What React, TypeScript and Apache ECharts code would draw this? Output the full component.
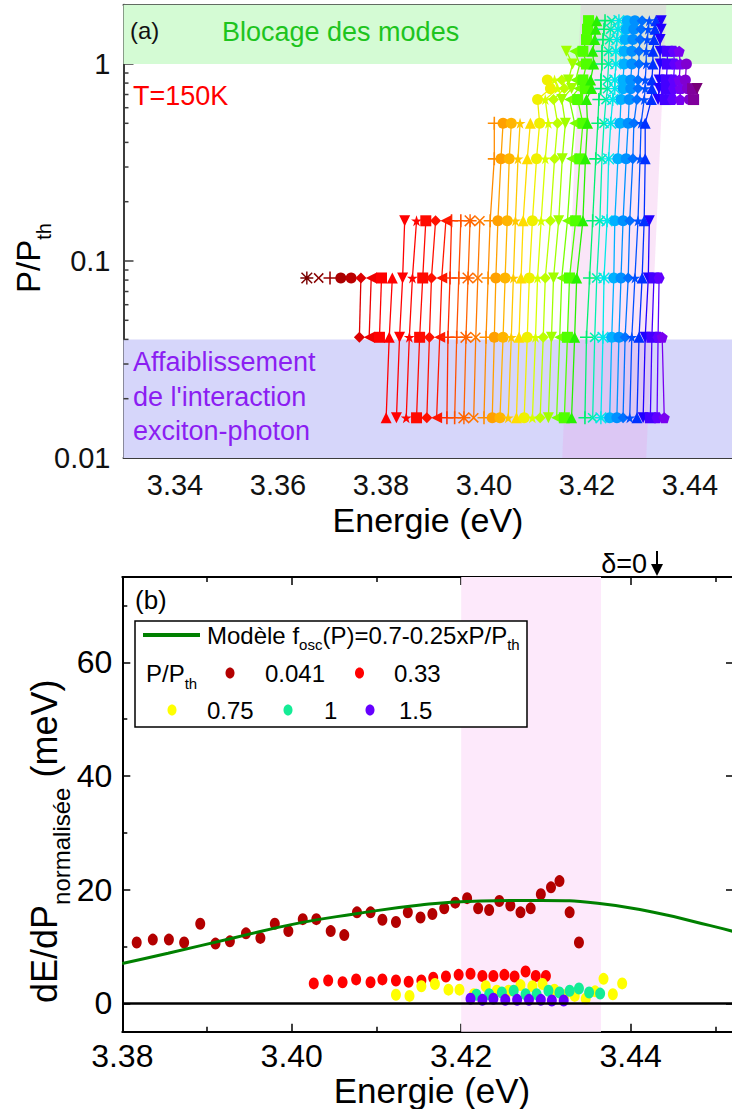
import React, { useEffect, useRef } from 'react';
import * as echarts from 'echarts';

const FF = '"Liberation Sans", Arial, Helvetica, sans-serif';

// ---------------- Panel (a) data ----------------
const P_ROWS = [0.016, 0.041, 0.082, 0.16, 0.33, 0.5, 0.66, 0.75, 0.83, 1.0, 1.16, 1.33, 1.5, 1.66];
const N = null;
// energy (eV) of each mode at each power row (index matches P_ROWS)
const MODE_E: (number | null)[][] = [
  [N, N, 3.3656],
  [N, N, 3.3679],
  [N, N, 3.3701],
  [N, N, 3.3722],
  [N, N, 3.3742],
  [N, 3.3758, 3.3761],
  [N, 3.3777, 3.3781],
  [N, 3.3797, 3.3801],
  [3.381, 3.3816, 3.3822],
  [3.383, 3.3836, 3.3842, 3.3846],
  [3.3849, 3.3855, 3.3861, 3.3869],
  [3.3869, 3.3875, 3.3881, 3.3887],
  [3.3889, 3.3894, 3.3898, 3.3906],
  [3.3908, 3.3914, 3.3918, 3.3926],
  [3.3928, 3.393, 3.3934, 3.3937],
  [3.3943, 3.3947, 3.3951, 3.3955],
  [3.3961, 3.3965, 3.3969, 3.3973],
  [3.398, 3.3984, 3.3988, 3.3992],
  [3.4, 3.4004, 3.4008, 3.4012, 3.402, 3.402],
  [3.4016, 3.402, 3.4023, 3.4027, 3.4033, 3.4037],
  [3.4031, 3.4037, 3.4041, 3.4045, 3.4049, 3.4053],
  [3.4047, 3.4053, 3.4057, 3.4061, 3.4066, 3.407],
  [3.4063, 3.4068, 3.4072, 3.4076, 3.4084, 3.409],
  [3.4078, 3.4084, 3.4088, 3.4094, 3.4102, 3.4108, 3.4104, 3.4129, 3.4123],
  [3.4094, 3.41, 3.4104, 3.4111, 3.4119, 3.4125, 3.4119, 3.4143, 3.4137],
  [3.4109, 3.4115, 3.4119, 3.4129, 3.4137, 3.4143, 3.4135, 3.4156, 3.4151],
  [3.4125, 3.4131, 3.4135, 3.4145, 3.4152, 3.4158, 3.4151, 3.417, 3.4164, 3.4172, 3.416],
  [3.4141, 3.4147, 3.4151, 3.4162, 3.417, 3.4176, 3.4166, 3.4184, 3.4178, 3.4186, 3.4176],
  [3.4156, 3.4162, 3.4166, 3.4178, 3.4186, 3.4192, 3.4182, 3.4197, 3.4192, 3.4199, 3.4192, 3.4199, 3.4201, 3.4203],
  [3.417, 3.4176, 3.418, 3.4192, 3.4197, 3.4201, 3.4199, 3.4209, 3.4207, 3.4213, 3.4211, 3.4215, 3.4217, 3.4219],
  [3.4196, 3.4199, 3.4205, 3.4211, 3.4217, 3.4221, 3.4223, 3.4227, 3.4227, 3.4229, 3.4229, 3.4231, 3.4233, 3.4235],
  [3.4211, 3.4215, 3.4219, 3.4225, 3.4229, 3.4233, 3.4237, 3.424, 3.424, 3.4242, 3.4242, 3.4244, 3.4246, 3.4248],
  [3.4227, 3.4231, 3.4233, 3.4239, 3.4242, 3.4246, 3.425, 3.4254, 3.4254, 3.4256, 3.4256, 3.4258, 3.426, 3.4262],
  [3.4244, 3.4248, 3.4252, 3.4254, 3.426, 3.4264, 3.4266, 3.427, 3.427, 3.4272, 3.4272, 3.4274, 3.4276, 3.4278],
  [3.4258, 3.4262, 3.4266, 3.427, 3.4276, 3.428, 3.4282, 3.4285, 3.4285, 3.4287, 3.4287, 3.4289, 3.4291, 3.4293],
  [3.427, 3.4274, 3.428, 3.4283, 3.4289, 3.4291, 3.4297, 3.4299, 3.4299, 3.4301, 3.4301, 3.4303, 3.4305, 3.4307],
  [3.4283, 3.4287, 3.4293, 3.4299, 3.4303, 3.4305, 3.4311, 3.4313, 3.4313, 3.4315, 3.4315, 3.4317, 3.4319, 3.4321],
  [3.4297, 3.4301, 3.4307, 3.4311, 3.4313, 3.4313, 3.4325, 3.4326, 3.4326, 3.4328, 3.4328, 3.433, 3.4332, 3.4334],
  [3.4309, 3.4313, 3.4319, 3.4321, N, N, 3.4338, 3.434, 3.434, 3.4342, 3.4342, 3.4342, 3.4344, 3.4344],
  [3.4323, 3.4326, 3.433, N, N, N, 3.4352, 3.4354, 3.4354, 3.4356, 3.4356],
  [3.4336, 3.4338, 3.434, N, N, N, 3.4366, 3.4368, 3.4368, 3.437, 3.4368],
  [3.435, 3.4346, N, N, N, N, 3.4381, 3.4381, 3.4379, 3.4381, 3.4379],
  [N, N, N, N, N, N, 3.4399, 3.4395, 3.4391, 3.4393],
  [N, N, N, N, N, N, 3.4407, 3.4405],
  [N, N, N, N, N, N, N, 3.4414],
];
const MODE_COLOR = [
  '#7a0000', '#8a0000', '#9a0000', '#aa0000', '#bb0000',
  '#dd0000', '#ee0000', '#ff0000', '#ff0000', '#ff0000', '#ff0500', '#ff0a00', '#ff1000', '#ff1600',
  '#ff2a00',
  '#ff5000', '#ff6400', '#ff7800', '#ff8c00',
  '#ffa000', '#ffb400', '#ffc800', '#ffdc00',
  '#f0f000', '#d8ff00', '#bcff00', '#a0ff00',
  '#78ff00', '#50ff00', '#28f000',
  '#00f070', '#00f0b0', '#00e8e8',
  '#00b0ff', '#0090ff', '#0070ff', '#0050ff', '#0030ff',
  '#2000ff', '#4400ff', '#6000ff', '#7800f0',
  '#8000d0', '#80009c', '#780078',
];
const MODE_SYMBOL = [
  'aster', 'cross', 'plus', 'circle', 'circle',
  'diamond', 'triLeft', 'rect', 'triangle', 'triDown', 'star', 'rect', 'diamond', 'triLeft',
  'plus',
  'plus', 'aster', 'cross', 'plus',
  'circle', 'circle', 'star', 'triangle', 'circle', 'star', 'diamond', 'triDown', 'triLeft', 'rect', 'triangle',
  'plus', 'cross', 'aster',
  'circle', 'circle', 'diamond', 'star', 'triangle', 'triDown', 'rect', 'hex', 'penta', 'circle', 'rect', 'triDown',
];
const A_X_MAJOR = [3.34, 3.36, 3.38, 3.4, 3.42, 3.44];
const A_X_MINOR = [3.35, 3.37, 3.39, 3.41, 3.43, 3.45];
const A_Y_MINOR = [0.02, 0.03, 0.04, 0.05, 0.06, 0.07, 0.08, 0.09, 0.2, 0.3, 0.4, 0.5, 0.6, 0.7, 0.8, 0.9];
const GREEN_BAND = [1, 2];
const VIOLET_BAND = [0.01, 0.04];
const PINK_A_E = [3.4152, 3.4315, 3.4354, 3.4188];
const PINK_A_P = [0.01, 0.01, 2, 2];

// ---------------- Panel (b) data ----------------
const E_041 = [3.3817, 3.3836, 3.3855, 3.3873, 3.3892, 3.391, 3.3927, 3.3946, 3.3963, 3.398, 3.3996, 3.4013, 3.4029, 3.4046, 3.4062, 3.4077, 3.4093, 3.4107, 3.4123, 3.4137, 3.4152, 3.4166, 3.418, 3.4193, 3.4207, 3.422, 3.4233, 3.4245, 3.4258, 3.427, 3.4282, 3.4294, 3.4306, 3.4316, 3.4328, 3.4339];
const V_041 = [10.7, 11.2, 11.2, 10.7, 14.0, 10.5, 10.9, 12.3, 11.5, 14.0, 12.7, 14.8, 14.8, 12.7, 12.0, 16.0, 16.0, 14.7, 14.3, 16.0, 15.1, 15.7, 16.7, 17.7, 18.5, 16.7, 16.4, 18.0, 17.2, 16.0, 16.7, 19.2, 20.4, 21.5, 16.0, 10.7];
const E_033 = [3.4026, 3.4043, 3.406, 3.4076, 3.4093, 3.4107, 3.4123, 3.4138, 3.4153, 3.4167, 3.4182, 3.4197, 3.4211, 3.4225, 3.4238, 3.4251, 3.4263, 3.4276, 3.4288, 3.43];
const V_033 = [3.5, 4.0, 3.7, 4.2, 3.7, 4.2, 4.0, 3.8, 4.0, 4.5, 4.7, 5.0, 5.2, 4.8, 4.8, 5.0, 4.7, 5.6, 4.8, 4.8];
const E_075 = [3.4123, 3.4139, 3.4153, 3.4169, 3.4185, 3.4198, 3.4215, 3.4229, 3.4242, 3.4256, 3.427, 3.4284, 3.4296, 3.431, 3.4322, 3.4334, 3.4347, 3.4358, 3.4368, 3.4379, 3.439];
const V_075 = [1.5, 1.3, 3.0, 3.4, 2.4, 2.4, 1.6, 3.0, 2.2, 2.2, 3.2, 3.0, 3.4, 2.4, 1.4, 1.3, 0.8, 2.1, 4.3, 1.6, 3.5];
const E_1 = [3.4218, 3.4233, 3.4248, 3.4262, 3.4276, 3.4289, 3.4303, 3.4316, 3.4328, 3.4339, 3.4351, 3.4364];
const V_1 = [1.5, 1.6, 1.9, 2.2, 1.6, 1.6, 2.2, 1.9, 2.2, 2.6, 1.9, 1.7];
const E_15 = [3.4211, 3.4225, 3.4238, 3.4252, 3.4266, 3.428, 3.4294, 3.4307, 3.4321];
const V_15 = [0.8, 0.6, 0.8, 0.6, 0.6, 0.6, 0.6, 0.5, 0.5];
const MODEL_E = [3.38, 3.3854, 3.3931, 3.4008, 3.4074, 3.4152, 3.4223, 3.4295, 3.4361, 3.4427, 3.4493, 3.4522];
const MODEL_V = [7.0, 8.8, 11.5, 14.1, 15.7, 17.3, 18.0, 18.1, 17.6, 16.0, 13.7, 12.6];
const B_X_MAJOR = [3.38, 3.4, 3.42, 3.44];
const B_X_MINOR = [3.39, 3.41, 3.43, 3.45];
const B_Y_MAJOR = [0, 20, 40, 60];
const B_Y_MINOR = [10, 30, 50, 70];
const PINK_B = [3.42, 3.4365];

const SYM: Record<string, string> = {
  circle: 'circle',
  rect: 'rect',
  triangle: 'triangle',
  diamond: 'diamond',
  plus: 'path://M4.4,0H5.6V4.4H10V5.6H5.6V10H4.4V5.6H0V4.4H4.4Z',
  cross: 'path://M4.4,0H5.6V4.4H10V5.6H5.6V10H4.4V5.6H0V4.4H4.4Z',
  aster: 'path://M4.45,0H5.55V10H4.45Z M0,4.45H10V5.55H0Z M1.3,0.5L9.5,8.7L8.7,9.5L0.5,1.3Z M8.7,0.5L9.5,1.3L1.3,9.5L0.5,8.7Z',
  triDown: 'path://M0,0H10L5,9Z',
  triLeft: 'path://M0,5L9,0V10Z',
  triRight: 'path://M10,5L1,0V10Z',
  star: 'path://M5,0L6.2,3.6H10L6.9,5.8L8.1,9.5L5,7.2L1.9,9.5L3.1,5.8L0,3.6H3.8Z',
  hex: 'path://M2.5,0H7.5L10,5L7.5,10H2.5L0,5Z',
  penta: 'path://M5,0L10,3.8L8.1,10H1.9L0,3.8Z',
};

let measureCtx: CanvasRenderingContext2D | null = null;
function measure(t: string, size: number): number {
  if (!measureCtx) measureCtx = document.createElement('canvas').getContext('2d');
  if (!measureCtx) return t.length * size * 0.55;
  measureCtx.font = `${size}px ${FF}`;
  return measureCtx.measureText(t).width;
}

type Part = { t: string; s: number; dy?: number; c?: string };
function runs(x: number, y: number, parts: Part[], color = '#000'): any[] {
  let cx = x;
  return parts.map((p) => {
    const el = {
      type: 'text',
      x: cx,
      y: y + (p.dy || 0),
      z: 100,
      silent: true,
      style: {
        text: p.t,
        fontSize: p.s,
        fontFamily: FF,
        fill: p.c || color,
        textAlign: 'left',
        textVerticalAlign: 'middle',
        align: 'left',
        verticalAlign: 'middle',
      },
    };
    cx += measure(p.t, p.s);
    return el;
  });
}
function txt(x: number, y: number, t: string, s: number, color: string, align = 'left'): any {
  return {
    type: 'text', x, y, z: 100, silent: true,
    style: { text: t, fontSize: s, fontFamily: FF, fill: color, textAlign: align, textVerticalAlign: 'middle', align, verticalAlign: 'middle' },
  };
}

const AX_A = '#3c3c3c';
const AX_B = '#000';

function tickAxis(grid: number, min: number, max: number, pos: string, vals: number[], len: number, line: boolean, color: string, label?: any) {
  return {
    gridIndex: grid,
    type: 'value',
    min,
    max,
    position: pos,
    axisLine: { show: line, onZero: false, lineStyle: { color, width: 2 } },
    axisTick: { show: true, inside: true, length: len, customValues: vals, lineStyle: { color, width: 1.5 } },
    axisLabel: label ? { ...label, customValues: vals } : { show: false },
    splitLine: { show: false },
  };
}

export default function App() {
  const ref = useRef<HTMLDivElement>(null);
  useEffect(() => {
    if (!ref.current) return;
    const chart = echarts.init(ref.current, undefined, { renderer: 'svg' });

    const modeSeries = MODE_E.map((es, i) => {
      const kind = MODE_SYMBOL[i];
      const thin = kind === 'plus' || kind === 'cross' || kind === 'aster';
      return {
        type: 'line',
        xAxisIndex: 0,
        yAxisIndex: 0,
        z: 3,
        data: es.map((e, r) => [e == null ? null : e, P_ROWS[r]]),
        symbol: SYM[kind],
        symbolRotate: kind === 'cross' ? 45 : 0,
        symbolSize: thin ? 13 : 11,
        showSymbol: true,
        connectNulls: false,
        lineStyle: { color: MODE_COLOR[i], width: 1.3 },
        itemStyle: { color: MODE_COLOR[i] },
        silent: true,
        emphasis: { disabled: true },
      };
    });

    const dot = (E: number[], V: number[], color: string) => ({
      type: 'scatter',
      xAxisIndex: 4,
      yAxisIndex: 1,
      z: 3,
      data: E.map((e, i) => [e, V[i]]),
      symbol: 'circle',
      symbolSize: [10, 12],
      itemStyle: { color, opacity: 1 },
      silent: true,
    });

    const labelA = { show: true, fontSize: 29, fontFamily: FF, color: '#111', margin: 12, formatter: (v: number) => v.toFixed(2) };
    const labelB = { show: true, fontSize: 32, fontFamily: FF, color: '#000', margin: 8, formatter: (v: number) => v.toFixed(2) };
    const labelBY = { show: true, fontSize: 32, fontFamily: FF, color: '#000', margin: 10, formatter: (v: number) => String(v) };

    const option: any = {
      animation: false,
      backgroundColor: '#fff',
      grid: [
        { left: 123.5, top: 4.7, width: 618, height: 453.3, containLabel: false, outerBoundsMode: 'none' },
        { left: 122.3, top: 577, width: 611.7, height: 454.7, containLabel: false, outerBoundsMode: 'none' },
      ],
      xAxis: [
        tickAxis(0, 3.33, 3.45, 'bottom', A_X_MAJOR, 9, true, AX_A, labelA),
        tickAxis(0, 3.33, 3.45, 'bottom', A_X_MINOR, 5, false, AX_A),
        tickAxis(0, 3.33, 3.45, 'top', A_X_MAJOR, 9, true, AX_A),
        tickAxis(0, 3.33, 3.45, 'top', A_X_MINOR, 5, false, AX_A),
        tickAxis(1, 3.38, 3.4522, 'bottom', B_X_MAJOR, 8, true, AX_B, labelB),
        tickAxis(1, 3.38, 3.4522, 'bottom', B_X_MINOR, 5, false, AX_B),
        tickAxis(1, 3.38, 3.4522, 'top', B_X_MAJOR, 8, true, AX_B),
        tickAxis(1, 3.38, 3.4522, 'top', B_X_MINOR, 5, false, AX_B),
      ],
      yAxis: [
        {
          gridIndex: 0,
          type: 'log',
          logBase: 10,
          min: 0.01,
          max: 2,
          position: 'left',
          axisLine: { show: true, onZero: false, lineStyle: { color: AX_A, width: 2 } },
          axisTick: { show: true, inside: true, length: 10, lineStyle: { color: AX_A, width: 1.5 } },
          axisLabel: {
            show: true, fontSize: 29, fontFamily: FF, color: '#111', margin: 13, showMaxLabel: false,
            formatter: (v: number) => String(+v.toPrecision(3)),
          },
          splitLine: { show: false },
        },
        tickAxis(1, -5, 75, 'left', B_Y_MAJOR, 8, true, AX_B, labelBY),
        tickAxis(1, -5, 75, 'left', B_Y_MINOR, 5, false, AX_B),
        tickAxis(1, -5, 75, 'right', B_Y_MAJOR, 8, true, AX_B),
      ],
      series: [
        // bands of panel (a)
        {
          type: 'line',
          xAxisIndex: 0,
          yAxisIndex: 0,
          data: [],
          z: 1,
          silent: true,
          markArea: {
            silent: true,
            data: [
              [{ yAxis: GREEN_BAND[0], itemStyle: { color: '#d4fbd4' } }, { yAxis: GREEN_BAND[1] }],
              [{ yAxis: VIOLET_BAND[0], itemStyle: { color: '#d6d6fa' } }, { yAxis: VIOLET_BAND[1] }],
            ],
          },
        },
        {
          type: 'custom',
          xAxisIndex: 0,
          yAxisIndex: 0,
          z: 2,
          silent: true,
          data: [[PINK_A_E[0], PINK_A_P[0]]],
          renderItem: (params: any, api: any) => {
            const pts = PINK_A_E.map((e, i) => api.coord([e, PINK_A_P[i]]));
            return { type: 'polygon', shape: { points: pts }, style: { fill: 'rgba(236,160,230,0.28)' } };
          },
        },
        ...modeSeries,
        {
          type: 'custom',
          xAxisIndex: 0,
          yAxisIndex: 0,
          z: 10,
          silent: true,
          clip: false,
          data: A_Y_MINOR.map((v) => [3.33, v]),
          renderItem: (params: any, api: any) => {
            const p = api.coord([api.value(0), api.value(1)]);
            return { type: 'line', shape: { x1: p[0], y1: p[1], x2: p[0] + 5, y2: p[1] }, style: { stroke: AX_A, lineWidth: 1.5 } };
          },
        },
        // panel (b)
        {
          type: 'line',
          xAxisIndex: 4,
          yAxisIndex: 1,
          data: [],
          z: 1,
          silent: true,
          markArea: {
            silent: true,
            itemStyle: { color: '#fde9fb' },
            data: [[{ xAxis: PINK_B[0] }, { xAxis: PINK_B[1] }]],
          },
          markLine: {
            silent: true,
            symbol: ['none', 'none'],
            label: { show: false },
            lineStyle: { color: '#000', width: 2.5, type: 'solid' },
            data: [{ yAxis: 0 }],
          },
        },
        dot(E_041, V_041, '#b30000'),
        dot(E_033, V_033, '#ff0000'),
        dot(E_075, V_075, '#ffff00'),
        dot(E_1, V_1, '#14ec96'),
        dot(E_15, V_15, '#6600ff'),
        {
          type: 'line',
          xAxisIndex: 4,
          yAxisIndex: 1,
          z: 4,
          data: MODEL_E.map((e, i) => [e, MODEL_V[i]]),
          smooth: true,
          showSymbol: false,
          symbol: 'none',
          lineStyle: { color: '#008000', width: 3 },
          silent: true,
        },
      ],
      graphic: {
        elements: [
          // panel (a) texts
          txt(130, 30, '(a)', 24, '#111'),
          txt(222, 32, 'Blocage des modes', 27, '#1ec41e'),
          txt(133, 96, 'T=150K', 27, '#ff0000'),
          txt(133, 362, 'Affaiblissement', 27, '#8b1ef2'),
          txt(133, 397, "de l'interaction", 27, '#8b1ef2'),
          txt(133, 431, 'exciton-photon', 27, '#8b1ef2'),
          txt(428, 520, 'Energie (eV)', 34, '#000', 'center'),
          {
            type: 'group', x: 28, y: 293, rotation: Math.PI / 2, z: 100,
            children: runs(0, 0, [{ t: 'P/P', s: 33 }, { t: 'th', s: 20, dy: 16 }]),
          },
          // panel (b) texts
          txt(135, 600, '(b)', 26, '#000'),
          txt(647, 564, 'δ=0', 27, '#000', 'right'),
          { type: 'line', z: 100, silent: true, shape: { x1: 657, y1: 551, x2: 657, y2: 568 }, style: { stroke: '#000', lineWidth: 2 } },
          { type: 'polygon', z: 100, silent: true, shape: { points: [[651, 564], [663, 564], [657, 576]] }, style: { fill: '#000' } },
          txt(432, 1090, 'Energie (eV)', 35, '#000', 'center'),
          {
            type: 'group', x: 44, y: 1003, rotation: Math.PI / 2, z: 100,
            children: runs(0, 0, [
              { t: 'dE/dP', s: 36 },
              { t: 'normalisée', s: 24, dy: 17 },
              { t: ' (meV)', s: 36 },
            ]),
          },
          // legend
          { type: 'rect', z: 99, silent: true, shape: { x: 135, y: 621, width: 392, height: 106 }, style: { fill: '#fff', stroke: '#000', lineWidth: 1.5 } },
          { type: 'line', z: 100, silent: true, shape: { x1: 143, y1: 635, x2: 200, y2: 635 }, style: { stroke: '#008000', lineWidth: 4 } },
          ...runs(207, 635, [
            { t: 'Modèle f', s: 24 },
            { t: 'osc', s: 15, dy: 9 },
            { t: '(P)=0.7-0.25xP/P', s: 24 },
            { t: 'th', s: 15, dy: 9 },
          ]),
          ...runs(146, 673, [{ t: 'P/P', s: 24 }, { t: 'th', s: 15, dy: 10 }]),
          { type: 'ellipse', z: 100, silent: true, shape: { cx: 230, cy: 673, rx: 4.5, ry: 5.5 }, style: { fill: '#b30000' } },
          txt(265, 673, '0.041', 24, '#000'),
          { type: 'ellipse', z: 100, silent: true, shape: { cx: 359.5, cy: 673, rx: 4.5, ry: 5.5 }, style: { fill: '#ff0000' } },
          txt(394, 673, '0.33', 24, '#000'),
          { type: 'ellipse', z: 100, silent: true, shape: { cx: 172, cy: 710, rx: 4.5, ry: 5.5 }, style: { fill: '#ffff00' } },
          txt(207, 710, '0.75', 24, '#000'),
          { type: 'ellipse', z: 100, silent: true, shape: { cx: 288, cy: 710, rx: 4.5, ry: 5.5 }, style: { fill: '#14ec96' } },
          txt(324, 710, '1', 24, '#000'),
          { type: 'ellipse', z: 100, silent: true, shape: { cx: 370, cy: 710, rx: 4.5, ry: 5.5 }, style: { fill: '#6600ff' } },
          txt(399, 710, '1.5', 24, '#000'),
        ],
      },
    };

    chart.setOption(option);
    return () => chart.dispose();
  }, []);

  return (
    <div style={{ position: 'fixed', left: 0, top: 0, width: 732, height: 1109, overflow: 'hidden', background: '#fff' }}>
      <div ref={ref} style={{ width: 760, height: 1109 }} />
    </div>
  );
}
